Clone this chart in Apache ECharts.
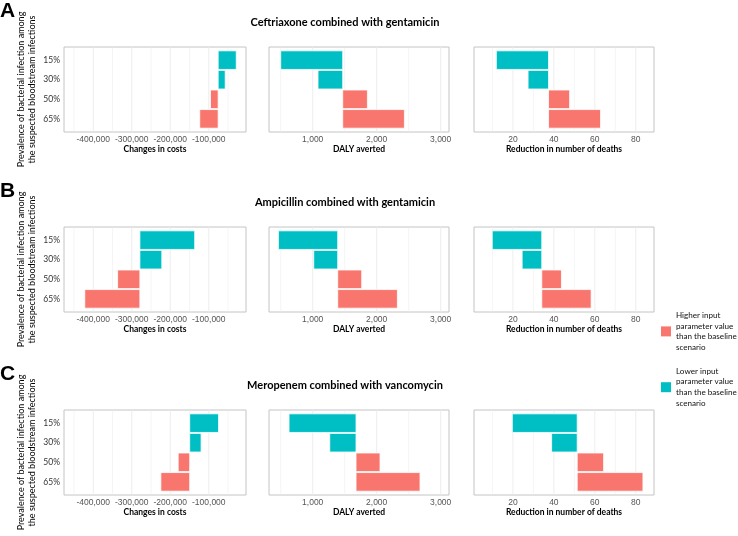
<!DOCTYPE html>
<html>
<head>
<meta charset="utf-8">
<script src="https://cdn.jsdelivr.net/npm/echarts@6/dist/echarts.min.js"></script>
<style>
  html, body { margin: 0; padding: 0; background: #fff; }
  #chart { width: 738px; height: 536px; }
</style>
</head>
<body>
<div id="chart"></div>
<script>
// values, one entry per regimen (A, B, C)
const panelLetters = ['A', 'B', 'C'];
const regimens = [
  'Ceftriaxone combined with gentamicin',
  'Ampicillin combined with gentamicin',
  'Meropenem combined with vancomycin'
];
const prevalence = ['15%', '30%', '50%', '65%'];
const isHigher = [false, false, true, true];

const costBaseline = [-75700, -279000, -149600];
const costScenario = [
  [-28700, -57400, -95600, -123500],
  [-136600, -222000, -336800, -422000],
  [-74700, -120000, -179500, -224500]
];
const dalyBaseline = [1469, 1391, 1677];
const dalyScenario = [
  [500, 1083, 1855, 2433],
  [464, 1016, 1766, 2323],
  [630, 1266, 2052, 2677]
];
const deathBaseline = [37.4, 34.1, 51.4];
const deathScenario = [
  [11.9, 27.4, 47.7, 62.8],
  [9.9, 24.5, 43.7, 58.2],
  [19.7, 38.9, 64.3, 83.5]
];

// tick positions
const costTicks = [-400000, -300000, -200000, -100000];
const costMinor = [-450000, -350000, -250000, -150000, -50000];
const dalyTicks = [1000, 2000, 3000];
const dalyMinor = [500, 1500, 2500];
const deathTicks = [20, 40, 60, 80];
const deathMinor = [10, 30, 50, 70];

const legendLabels = {
  higher: 'Higher input\nparameter value\nthan the baseline\nscenario',
  lower: 'Lower input\nparameter value\nthan the baseline\nscenario'
};
const yTitle = 'Prevalence of bacterial infection among\nthe suspected bloodstream infections';

const RED = '#F8766D';
const TEAL = '#00BFC4';
const FONT = 'Lato, "Open Sans", sans-serif';

const measures = [
  { title: 'Changes in costs', base: costBaseline, values: costScenario, ticks: costTicks, minor: costMinor,
    min: -476000, max: -3400, left: 64, width: 182 },
  { title: 'DALY averted', base: dalyBaseline, values: dalyScenario, ticks: dalyTicks, minor: dalyMinor,
    min: 317, max: 3130, left: 269, width: 180 },
  { title: 'Reduction in number of deaths', base: deathBaseline, values: deathScenario, ticks: deathTicks, minor: deathMinor,
    min: 1, max: 88.9, left: 474, width: 180 }
];
const rowTop = [47, 227, 410];
const rowHeight = 85;

function renderBar(params, api) {
  const row = api.value(0);
  const p0 = api.coord([api.value(1), row]);
  const p1 = api.coord([api.value(2), row]);
  const h = api.size([0, 0.95])[1];
  return {
    type: 'rect',
    shape: { x: Math.min(p0[0], p1[0]), y: p0[1] - h / 2, width: Math.abs(p1[0] - p0[0]), height: h },
    style: { fill: api.visual('color'), stroke: '#ffffff', lineWidth: 0.8 }
  };
}

function renderGridLine(width) {
  return function (params, api) {
    const x = api.coord([api.value(0), 2.5])[0];
    const cs = params.coordSys;
    return {
      type: 'line',
      shape: { x1: x, y1: cs.y, x2: x, y2: cs.y + cs.height },
      style: { stroke: '#ebebeb', lineWidth: width }
    };
  };
}

const grid = [], xAxis = [], yAxis = [], series = [], graphic = [];

regimens.forEach((name, r) => {
  graphic.push({
    type: 'text', x: 0, y: rowTop[r] - 46,
    style: { text: panelLetters[r], font: 'bold 21px "Liberation Sans", Arial, sans-serif', fill: '#000' }
  });
  graphic.push({
    type: 'text', x: 345, y: rowTop[r] - 25,
    style: { text: name, font: 'bold 11px ' + FONT, fill: '#000', textAlign: 'center', textVerticalAlign: 'middle' }
  });

  measures.forEach((m, c) => {
    const idx = grid.length;
    grid.push({
      left: m.left, top: rowTop[r], width: m.width, height: rowHeight,
      show: true, borderColor: '#c4c4c4', borderWidth: 1, backgroundColor: 'transparent'
    });
    xAxis.push({
      type: 'value', gridIndex: idx, min: m.min, max: m.max,
      axisLine: { show: false }, axisTick: { show: false }, splitLine: { show: false },
      axisLabel: {
        customValues: m.ticks, margin: 3, color: '#555', fontSize: 8.5,
        fontFamily: '"Liberation Sans", Arial, sans-serif',
        formatter: v => v.toLocaleString('en-US')
      },
      name: m.title, nameLocation: 'middle', nameGap: 13,
      nameTextStyle: { fontWeight: 'bold', fontSize: 8.5, color: '#000', fontFamily: FONT }
    });
    yAxis.push({
      type: 'value', gridIndex: idx, inverse: true, min: 0.33, max: 4.67,
      axisLine: { show: false }, axisTick: { show: false }, splitLine: { show: false },
      axisLabel: {
        show: c === 0, customValues: [1, 2, 3, 4], margin: 4, color: '#333', fontSize: 8.5, fontFamily: FONT,
        formatter: v => prevalence[v - 1]
      },
      name: c === 0 ? yTitle : '', nameLocation: 'middle', nameRotate: 90, nameGap: 26,
      nameTextStyle: { fontSize: 9, lineHeight: 11.5, color: '#000', fontFamily: FONT, align: 'center' }
    });

    series.push({
      type: 'custom', xAxisIndex: idx, yAxisIndex: idx, silent: true, z: 1,
      renderItem: renderGridLine(0.5), encode: { x: 0, y: 1 },
      data: m.minor.map(v => [v, 2.5])
    });
    series.push({
      type: 'custom', xAxisIndex: idx, yAxisIndex: idx, silent: true, z: 1,
      renderItem: renderGridLine(0.9), encode: { x: 0, y: 1 },
      data: m.ticks.map(v => [v, 2.5])
    });

    ['lower', 'higher'].forEach(dir => {
      const data = [];
      prevalence.forEach((p, i) => {
        if (isHigher[i] === (dir === 'higher')) data.push([i + 1, m.base[r], m.values[r][i]]);
      });
      series.push({
        type: 'custom', name: dir, xAxisIndex: idx, yAxisIndex: idx, z: 3,
        itemStyle: { color: dir === 'higher' ? RED : TEAL },
        renderItem: renderBar, encode: { x: [1, 2], y: 0 },
        data: data
      });
    });
  });
});

const chart = echarts.init(document.getElementById('chart'));
chart.setOption({
  animation: false,
  backgroundColor: '#fff',
  grid, xAxis, yAxis, series, graphic,
  legend: {
    data: ['higher', 'lower'], orient: 'vertical', left: 661, top: 310, padding: 0,
    itemWidth: 10, itemHeight: 10, itemGap: 13, icon: 'rect',
    formatter: n => legendLabels[n],
    textStyle: { fontSize: 8.1, lineHeight: 10.7, color: '#111', fontFamily: FONT }
  }
});
</script>
</body>
</html>
